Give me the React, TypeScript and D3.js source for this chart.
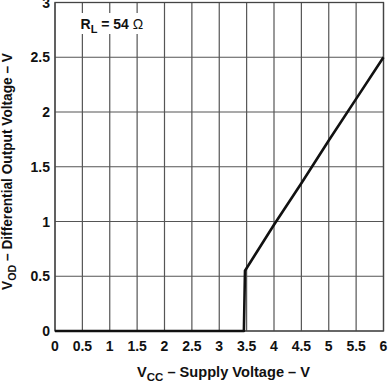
import React from "react";
import * as d3 from "d3";

const xTicks = [0, 0.5, 1, 1.5, 2, 2.5, 3, 3.5, 4, 4.5, 5, 5.5, 6];
const yTicks = [0, 0.5, 1, 1.5, 2, 2.5, 3];
const vcc = [0, 3.45, 3.47, 4, 4.5, 5, 5.5, 6];
const vod = [0, 0, 0.55, 0.97, 1.35, 1.74, 2.12, 2.5];

const W = 388, H = 381;
const L = 55, R = 383.5, T = 2.5, B = 331;

export default function App() {
  const x = d3.scaleLinear().domain([0, 6]).range([L, R]);
  const y = d3.scaleLinear().domain([0, 3]).range([B, T]);
  const line = d3.line<number>().x((_, i) => x(vcc[i])).y((d) => y(d));
  const font = "'Liberation Sans', Arial, sans-serif";
  return (
    <svg width={W} height={H} style={{ position: "absolute", left: 0, top: 0 }} fontFamily={font}>
      <rect width={W} height={H} fill="#fff" />
      {xTicks.map((t) => (
        <line key={"gx" + t} x1={x(t)} x2={x(t)} y1={T} y2={B} stroke="#555" strokeWidth={1.2} />
      ))}
      {yTicks.map((t) => (
        <line key={"gy" + t} x1={L} x2={R} y1={y(t)} y2={y(t)} stroke="#555" strokeWidth={1.2} />
      ))}
      <rect x={L} y={T} width={R - L} height={B - T} fill="none" stroke="#444" strokeWidth={1.3} />
      <rect x={76} y={13} width={72} height={21} fill="#fff" />
      <text x={80.5} y={28.5} fontSize={14} fontWeight="bold" fill="#111">
        R<tspan fontSize={11} dy={4}>L</tspan>
        <tspan dy={-4}> = 54 </tspan>
        <tspan fontWeight="normal">Ω</tspan>
      </text>
      <path d={line(vod) || ""} fill="none" stroke="#111" strokeWidth={2.6} strokeLinejoin="round" />
      {xTicks.map((t) => (
        <text key={"tx" + t} x={x(t)} y={351} fontSize={14} fontWeight="bold" textAnchor="middle" fill="#111">
          {t}
        </text>
      ))}
      {yTicks.map((t) => (
        <text key={"ty" + t} x={50} y={y(t) + 5} fontSize={14} fontWeight="bold" textAnchor="end" fill="#111">
          {t}
        </text>
      ))}
      <text x={137} y={376.5} fontSize={14} fontWeight="bold" fill="#111" textLength={173} lengthAdjust="spacingAndGlyphs">
        V<tspan fontSize={11} dy={4}>CC</tspan>
        <tspan dy={-4}> – Supply Voltage – V</tspan>
      </text>
      <text transform={`translate(12,290) rotate(-90)`} fontSize={14} fontWeight="bold" fill="#111" textLength={237} lengthAdjust="spacingAndGlyphs">
        V<tspan fontSize={11} dy={4}>OD</tspan>
        <tspan dy={-4}> – Differential Output Voltage – V</tspan>
      </text>
    </svg>
  );
}
